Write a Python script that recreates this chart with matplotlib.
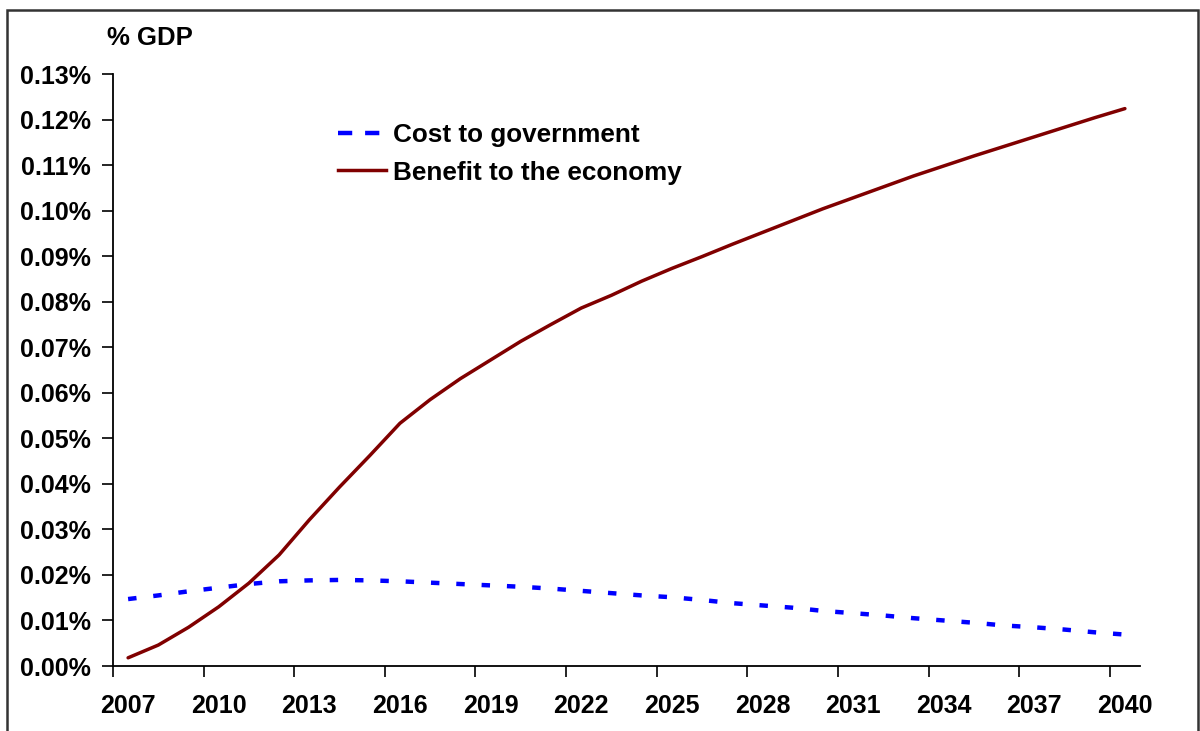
import numpy as np
import matplotlib
matplotlib.use("Agg")
import matplotlib.pyplot as plt
from matplotlib.lines import Line2D
from matplotlib.patches import Rectangle
from matplotlib.ticker import FuncFormatter

plt.rcParams['font.family'] = ['Liberation Sans', 'DejaVu Sans']
plt.rcParams['font.weight'] = 'bold'

# dados (% do PIB)
anos = np.arange(2007, 2041)
custo_governo = [0.0147, 0.0155, 0.0164, 0.0172, 0.0180, 0.0186, 0.0188, 0.0189,
                 0.0188, 0.0186, 0.0183, 0.0180, 0.0177, 0.0174, 0.0170, 0.0165,
                 0.0160, 0.0155, 0.0151, 0.0145, 0.0138, 0.0133, 0.0128, 0.0121,
                 0.0116, 0.0111, 0.0105, 0.0100, 0.0095, 0.0089, 0.0085, 0.0080,
                 0.0074, 0.0069]
beneficio_economia = [0.0018, 0.0046, 0.0085, 0.0130, 0.0182, 0.0244, 0.0321, 0.0393,
                      0.0462, 0.0533, 0.0585, 0.0631, 0.0672, 0.0713, 0.0750, 0.0786,
                      0.0814, 0.0845, 0.0873, 0.0899, 0.0926, 0.0952, 0.0978, 0.1004,
                      0.1028, 0.1052, 0.1076, 0.1098, 0.1120, 0.1141, 0.1162, 0.1183,
                      0.1204, 0.1224]
rotulos_x = np.arange(2007, 2041, 3)

W, H = 1200, 731
fig = plt.figure(figsize=(W / 100, H / 100), dpi=100)
ax = fig.add_axes([113 / W, 1 - 666 / H, (1140 - 113) / W, (666 - 74) / H])

ax.plot(anos, custo_governo, color='#0000FF', lw=3.2, dashes=(1.9, 3.8),
        dash_capstyle='butt', zorder=3)
ax.plot(anos, beneficio_economia, color='#800000', lw=2.5,
        solid_capstyle='round', zorder=4)

ax.set_xlim(2006.5, 2040.5)
ax.set_ylim(0, 0.13)
ax.set_yticks(np.arange(0, 0.131, 0.01))
ax.yaxis.set_major_formatter(FuncFormatter(lambda v, p: f"{v:.2f}%"))
ax.set_xticks(rotulos_x)
ax.set_xticklabels([str(a) for a in rotulos_x])
ax.set_xticks(np.arange(2006.5, 2040, 3), minor=True)
ax.tick_params(axis='x', which='major', length=0, pad=20, labelsize=18)
ax.tick_params(axis='x', which='minor', length=8, width=1.2, direction='out')
ax.tick_params(axis='y', length=8, width=1.2, direction='out', pad=8, labelsize=18)

for lado in ['top', 'right']:
    ax.spines[lado].set_visible(False)
for lado in ['left', 'bottom']:
    ax.spines[lado].set_linewidth(1.3)

fig.text(107 / W, 1 - 38 / H, '% GDP', fontsize=18.5, fontweight='bold',
         ha='left', va='center')

handles = [Line2D([], [], color='#0000FF', lw=3.2, dashes=(3.2, 2.9), dash_capstyle='butt'),
           Line2D([], [], color='#800000', lw=2.5)]
ax.legend(handles, ['Cost to government', 'Benefit to the economy'],
          loc='upper left', bbox_to_anchor=(338 / W, 1 - 123 / H),
          bbox_transform=fig.transFigure, frameon=False, fontsize=18.8,
          borderpad=0, borderaxespad=0, handlelength=1.85, handletextpad=0.25,
          labelspacing=0.52)

# moldura externa
fig.patches.append(Rectangle((7 / W, -0.02), (1198 - 7) / W, 1.02 - 10 / H,
                             transform=fig.transFigure, fill=False,
                             edgecolor='#333333', lw=1.8))

fig.savefig('out.png', dpi=100)
